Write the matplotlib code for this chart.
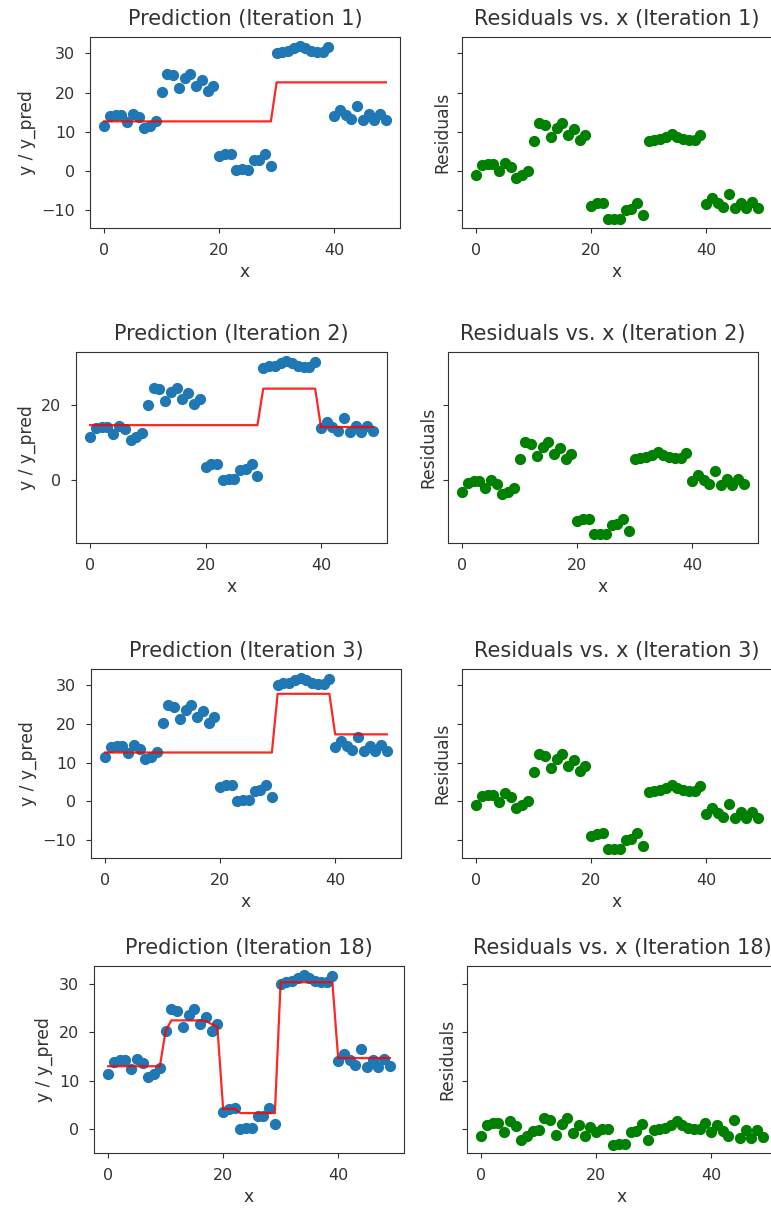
import numpy as np
import matplotlib
matplotlib.use("Agg")
import matplotlib.pyplot as plt

# ---------------- data ----------------
x = np.arange(50)

y_group0 = [11.5, 13.9, 14.3, 14.3, 12.4, 14.6, 13.6, 10.8, 11.5, 12.6]
y_group1 = [20.2, 24.8, 24.4, 21.2, 23.6, 24.8, 21.7, 23.3, 20.3, 21.7]
y_group2 = [3.6, 4.2, 4.3, 0.1, 0.3, 0.2, 2.6, 2.8, 4.3, 1.1]
y_group3 = [30.1, 30.5, 30.7, 31.3, 32.0, 31.3, 30.6, 30.4, 30.4, 31.6]
y_group4 = [14.0, 15.6, 14.3, 13.2, 16.5, 12.9, 14.4, 12.9, 14.5, 13.0]
y = np.array(y_group0 + y_group1 + y_group2 + y_group3 + y_group4)

pred_iter1 = [12.6] * 30 + [22.6] * 20
pred_iter2 = [14.7] * 30 + [24.5] * 10 + [14.2] * 10
pred_iter3 = [12.6] * 30 + [27.8] * 10 + [17.3] * 10
pred_iter18 = ([13.0] * 10 +
               [20.3, 22.5, 22.5, 22.5, 22.5, 22.5, 22.5, 22.4, 21.7, 21.2] +
               [4.2, 4.2, 4.2, 3.3, 3.3, 3.3, 3.3, 3.3, 3.3, 3.3] +
               [30.4] * 10 +
               [14.7] * 10)

iterations = [1, 2, 3, 18]
predictions = [pred_iter1, pred_iter2, pred_iter3, pred_iter18]
y_tick_sets = [[-10, 0, 10, 20, 30], [0, 20], [-10, 0, 10, 20, 30], [0, 10, 20, 30]]
x_ticks = [0, 20, 40]

# ---------------- layout (pixels) ----------------
W, H = 771, 1208
left_boxes = [(90, 37, 400, 228), (76, 352, 387, 543),
              (91, 669, 401, 858), (94, 966, 404, 1153)]
right_boxes = [(462, 37, 772, 228), (448, 352, 758, 543),
               (462, 669, 772, 858), (467, 966, 777, 1153)]


def rect(b):
    x0, y0, x1, y1 = b
    return [x0 / W, 1 - y1 / H, (x1 - x0) / W, (y1 - y0) / H]


TITLE_FS = 15
LABEL_FS = 12.3
TICK_FS = 11.5
TEXT_C = "#333333"

fig = plt.figure(figsize=(W / 100, H / 100), dpi=100)

for it, pred, yt, lb, rb in zip(iterations, predictions, y_tick_sets,
                                left_boxes, right_boxes):
    pred = np.array(pred)
    axL = fig.add_axes(rect(lb))
    axR = fig.add_axes(rect(rb), sharey=axL)

    axL.scatter(x, y, s=50, color="C0")
    axL.plot(x, pred, color="red", lw=1.6, alpha=0.85)
    axL.set_title(f"Prediction (Iteration {it})", fontsize=TITLE_FS, color=TEXT_C, pad=8.5)
    axL.set_xlabel("x", fontsize=LABEL_FS, color=TEXT_C)
    axL.set_ylabel("y / y_pred", fontsize=LABEL_FS, color=TEXT_C)

    axR.scatter(x, y - pred, s=50, color="green")
    axR.set_title(f"Residuals vs. x (Iteration {it})", fontsize=TITLE_FS, color=TEXT_C, pad=8.5)
    axR.set_xlabel("x", fontsize=LABEL_FS, color=TEXT_C)
    axR.set_ylabel("Residuals", fontsize=LABEL_FS, color=TEXT_C)

    axL.set_yticks(yt)
    for ax in (axL, axR):
        ax.set_xticks(x_ticks)
        ax.tick_params(labelsize=TICK_FS, labelcolor=TEXT_C, color=TEXT_C, pad=7)
        for sp in ax.spines.values():
            sp.set_color(TEXT_C)
    axR.tick_params(labelleft=False)

fig.savefig("out.png", dpi=100)
